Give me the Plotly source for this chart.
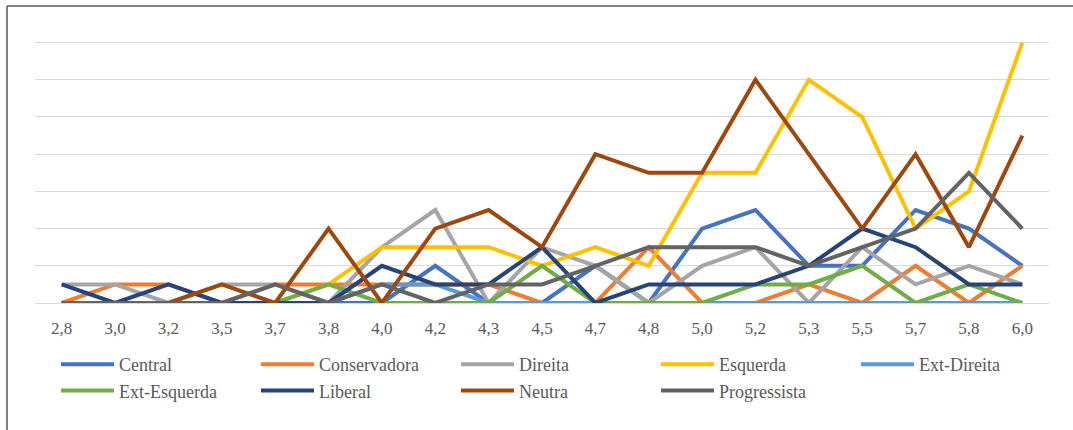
import plotly.graph_objects as go

categories = ["2,8", "3,0", "3,2", "3,5", "3,7", "3,8", "4,0", "4,2", "4,3", "4,5",
              "4,7", "4,8", "5,0", "5,2", "5,3", "5,5", "5,7", "5,8", "6,0"]

central = [0, 0, 0, 0, 0, 0, 0, 2, 0, 0, 2, 0, 4, 5, 2, 2, 5, 4, 2]
conservadora = [0, 1, 1, 0, 1, 1, 1, 1, 1, 0, 0, 3, 0, 0, 1, 0, 2, 0, 2]
direita = [1, 1, 0, 1, 1, 0, 3, 5, 0, 3, 2, 0, 2, 3, 0, 3, 1, 2, 1]
esquerda = [0, 0, 0, 0, 0, 1, 3, 3, 3, 2, 3, 2, 7, 7, 12, 10, 4, 6, 14]
ext_direita = [0, 0, 0, 0, 0, 0, 1, 1, 0, 0, 0, 0, 0, 0, 0, 0, 0, 0, 0]
ext_esquerda = [0, 0, 0, 0, 0, 1, 0, 0, 0, 2, 0, 0, 0, 1, 1, 2, 0, 1, 0]
liberal = [1, 0, 1, 0, 0, 0, 2, 1, 1, 3, 0, 1, 1, 1, 2, 4, 3, 1, 1]
neutra = [0, 0, 0, 1, 0, 4, 0, 4, 5, 3, 8, 7, 7, 12, 8, 4, 8, 3, 9]
progressista = [0, 0, 0, 0, 1, 0, 1, 0, 1, 1, 2, 3, 3, 3, 2, 3, 4, 7, 4]

series = [
    ("Central", central, "#4472C4"),
    ("Conservadora", conservadora, "#ED7D31"),
    ("Direita", direita, "#A5A5A5"),
    ("Esquerda", esquerda, "#FFC000"),
    ("Ext-Direita", ext_direita, "#5B9BD5"),
    ("Ext-Esquerda", ext_esquerda, "#70AD47"),
    ("Liberal", liberal, "#264478"),
    ("Neutra", neutra, "#9E480E"),
    ("Progressista", progressista, "#636363"),
]

fig = go.Figure()
for name, values, color in series:
    fig.add_trace(
        go.Scatter(
            x=categories,
            y=values,
            name=name,
            mode="lines",
            line=dict(color=color, width=4),
        )
    )

# plot area in pixels: x 35..1049, y 37..303
L, R, T, B = 35, 24, 37, 127
W, H = 1073 - L - R, 430 - T - B


def px_x(p):
    return (p - L) / W


def px_y(p):
    return (430 - B - p) / H


serif = "Liberation Serif, Times New Roman, serif"

fig.update_layout(
    width=1073,
    height=430,
    margin=dict(l=L, r=R, t=T, b=B),
    paper_bgcolor="white",
    plot_bgcolor="white",
    font=dict(family=serif, color="#595959"),
    xaxis=dict(
        type="category",
        range=[-0.5, 18.5],
        showgrid=False,
        showline=True,
        linecolor="#D9D9D9",
        linewidth=1,
        ticks="",
        tickfont=dict(size=17, color="#595959", family=serif),
        ticklabelstandoff=10,
    ),
    yaxis=dict(
        range=[0, 14.3],
        dtick=2,
        showticklabels=False,
        showgrid=True,
        gridcolor="#D9D9D9",
        gridwidth=1,
        zeroline=False,
    ),
    legend=dict(
        orientation="h",
        x=px_x(56),
        xanchor="left",
        y=px_y(346),
        yanchor="top",
        itemwidth=53,
        entrywidth=132,
        entrywidthmode="pixels",
        font=dict(size=18, color="#595959", family=serif),
        bgcolor="rgba(0,0,0,0)",
    ),
    showlegend=True,
    shapes=[
        dict(type="line", xref="paper", yref="paper",
             x0=px_x(7), x1=px_x(1073), y0=px_y(6), y1=px_y(6),
             line=dict(color="#595959", width=1.5)),
        dict(type="line", xref="paper", yref="paper",
             x0=px_x(7), x1=px_x(7), y0=px_y(6), y1=px_y(430),
             line=dict(color="#595959", width=1.5)),
    ],
)

fig.write_html(
    "out.html",
    config={"displayModeBar": False},
    post_script="document.body.style.margin='0';",
)
